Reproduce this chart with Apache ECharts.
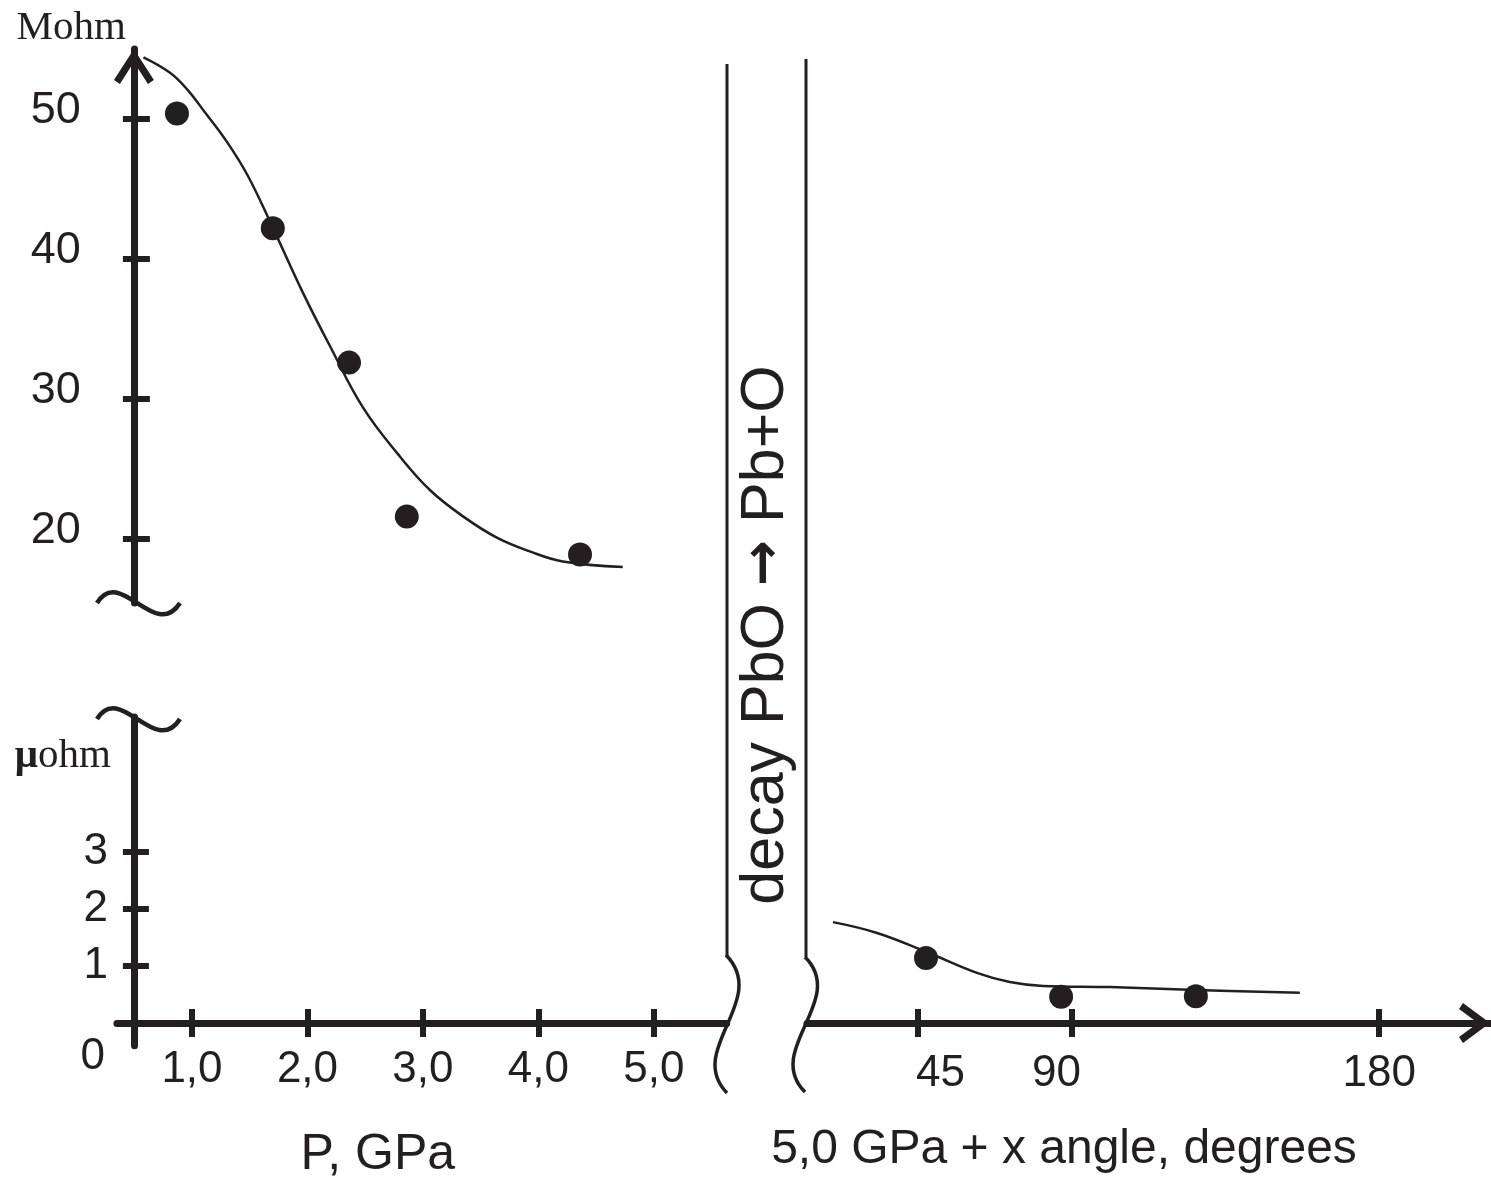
<!DOCTYPE html>
<html>
<head>
<meta charset="utf-8">
<title>PbO resistance vs pressure</title>
<script src="https://cdn.jsdelivr.net/npm/echarts@6/dist/echarts.min.js"></script>
<style>
  html, body { margin: 0; padding: 0; background: #fff; }
  #chart { width: 1491px; height: 1179px; }
</style>
</head>
<body>
<div id="chart"></div>
<script>
const INK = '#231f20'
const SANS = 'Liberation Sans'
const SERIF = 'Liberation Serif'

// upper panel: resistance (Mohm) vs pressure (GPa)
const pressureFit = [0.58, 0.81, 0.96, 1.11, 1.3, 1.48, 1.68, 1.96, 2.2, 2.48, 2.78, 3.06, 3.35, 3.64, 3.93, 4.21, 4.73]
const mohmFit = [54.4, 53.3, 52.1, 50.5, 48.4, 46.0, 42.6, 37.6, 33.7, 29.4, 26.1, 23.5, 21.6, 20.1, 19.1, 18.4, 18.0]
const pressure = [0.87, 1.7, 2.36, 2.86, 4.36]
const mohm = [50.4, 42.2, 32.6, 21.6, 18.9]

// right panel: resistance (μohm) at 5,0 GPa vs shear angle
const angleFit = [20.3, 33.2, 47.5, 62.4, 72.0, 81.7, 101.3, 126.4, 156.8]
const uohmFit = [1.77, 1.58, 1.25, 0.88, 0.72, 0.65, 0.63, 0.58, 0.53]
const angle = [47.5, 87.0, 126.4]
const uohm = [1.14, 0.46, 0.47]

// ticks
const pTicks = [1, 2, 3, 4, 5]
const mohmTicks = [20, 30, 40, 50]
const uohmTicks = [1, 2, 3]
const uohmLabels = [0, 1, 2, 3]
const angleTicks = [45, 90, 180]

const pRange = [0.35, 5.63]
const mohmRange = [15.43, 55]
const uohmRange = [-0.4, 5.37]
const angleRange = [12.7, 212.4]

const zip = (xs, ys) => xs.map((x, i) => [x, ys[i]])

// open chevron arrow heads, drawn pointing up
const ARROW_Y = 'path://M0,31 L20,0 L40,31 L34,35 L20,13 L6,35 Z'
const ARROW_X = 'path://M0,27 L20,0 L40,27 L34,31 L20,12 L6,31 Z'

const tickStyle = { color: INK, width: 6 }
const labelFont = { color: INK, fontFamily: SANS, fontSize: 44 }

function tickOnlyAxis(base, ticks, length) {
  return Object.assign({}, base, {
    axisLine: {
      show: false,
      onZero: base.axisLine ? base.axisLine.onZero : false,
      onZeroAxisIndex: base.axisLine ? base.axisLine.onZeroAxisIndex : undefined,
    },
    axisTick: { inside: false, length, customValues: ticks, lineStyle: tickStyle },
    axisLabel: { show: false },
    splitLine: { show: false },
    name: '',
  })
}

const xLower = {
  gridIndex: 1, type: 'value', position: 'bottom', min: pRange[0], max: pRange[1],
  axisLine: { onZero: true, onZeroAxisIndex: 2, lineStyle: { color: INK, width: 7 } },
  axisTick: { inside: true, length: 14, customValues: pTicks, lineStyle: tickStyle },
  axisLabel: Object.assign({ customValues: pTicks, margin: 2, formatter: (v) => v.toFixed(1).replace('.', ',') }, labelFont),
  splitLine: { show: false },
  name: 'P, GPa', nameLocation: 'middle', nameGap: 84,
  nameTextStyle: { color: INK, fontFamily: SANS, fontSize: 50, padding: [0, 88, 0, 0] },
}

const xRight = {
  gridIndex: 2, type: 'value', position: 'bottom', min: angleRange[0], max: angleRange[1],
  axisLine: {
    onZero: true, onZeroAxisIndex: 4,
    symbol: ['none', ARROW_X], symbolSize: [40, 31], symbolOffset: [0, -15.5],
    lineStyle: { color: INK, width: 7 },
  },
  axisTick: { inside: true, length: 14, customValues: angleTicks, lineStyle: tickStyle },
  axisLabel: Object.assign({
    customValues: angleTicks, margin: 6,
    // hand-drawn label placement of the original
    formatter: (v) => (v === 45 ? '{a|45}' : v === 90 ? '{b|90}' : String(v)),
    rich: {
      a: { fontFamily: SANS, fontSize: 44, color: INK, padding: [0, 0, 0, 46] },
      b: { fontFamily: SANS, fontSize: 44, color: INK, padding: [0, 30, 0, 0] },
    },
  }, labelFont),
  splitLine: { show: false },
  name: '5,0 GPa + x angle, degrees', nameLocation: 'middle', nameGap: 80,
  nameTextStyle: { color: INK, fontFamily: SANS, fontSize: 48, padding: [0, 169, 0, 0] },
}

const yUpper = {
  gridIndex: 0, type: 'value', position: 'left', offset: -17, min: mohmRange[0], max: mohmRange[1],
  axisLine: {
    onZero: false,
    symbol: ['none', ARROW_Y], symbolSize: [40, 35], symbolOffset: [0, -17.5],
    lineStyle: { color: INK, width: 7 },
  },
  axisTick: { inside: true, length: 16, customValues: mohmTicks, lineStyle: tickStyle },
  axisLabel: Object.assign({
    customValues: mohmTicks, margin: 53,
    formatter: (v) => '{u|' + v + '}',
    rich: { u: { fontFamily: SANS, fontSize: 45, color: INK, padding: [0, 0, 16, 0] } },
  }, labelFont),
  splitLine: { show: false },
  name: 'Mohm', nameLocation: 'end', nameGap: 0,
  nameTextStyle: { color: INK, fontFamily: SERIF, fontSize: 41, align: 'right', padding: [0, 8, 0, 0] },
}

const yLower = {
  gridIndex: 1, type: 'value', position: 'left', offset: -17, min: uohmRange[0], max: uohmRange[1],
  axisLine: { onZero: false, lineStyle: { color: INK, width: 7 } },
  axisTick: { inside: true, length: 15, customValues: uohmTicks, lineStyle: tickStyle },
  axisLabel: Object.assign({
    customValues: uohmLabels, margin: 26,
    formatter: (v) => (v === 0 ? '{z|0}' : String(v)),
    rich: { z: { fontFamily: SANS, fontSize: 44, color: INK, padding: [68, 3, 0, 0] } },
  }, labelFont),
  splitLine: { show: false },
  name: '{mu|μ}ohm', nameLocation: 'end', nameGap: -60,
  nameTextStyle: {
    color: INK, fontFamily: SERIF, fontSize: 41, align: 'right', padding: [0, 23, 0, 0],
    rich: { mu: { fontFamily: SERIF, fontSize: 41, fontWeight: 'bold', color: INK } },
  },
}

const option = {
  animation: false,
  backgroundColor: '#fff',
  grid: [
    { left: 116.9, top: 49, width: 609.8, height: 554, outerBoundsMode: 'none' },
    { left: 116.9, top: 716.9, width: 609.8, height: 328.9, outerBoundsMode: 'none' },
    { left: 807, top: 716.9, width: 683, height: 328.9, outerBoundsMode: 'none' },
  ],
  xAxis: [
    { gridIndex: 0, type: 'value', position: 'bottom', min: pRange[0], max: pRange[1], show: false },
    xLower,
    tickOnlyAxis(xLower, pTicks, 14),
    xRight,
    tickOnlyAxis(xRight, angleTicks, 14),
  ],
  yAxis: [
    yUpper,
    tickOnlyAxis(yUpper, mohmTicks, 11),
    yLower,
    tickOnlyAxis(yLower, uohmTicks, 11),
    { gridIndex: 2, type: 'value', position: 'left', min: uohmRange[0], max: uohmRange[1], show: false },
  ],
  series: [
    {
      name: 'fit Mohm', type: 'line', xAxisIndex: 0, yAxisIndex: 0,
      data: zip(pressureFit, mohmFit), smooth: 0.4, symbol: 'none',
      lineStyle: { color: INK, width: 2.5 }, silent: true, z: 3,
    },
    {
      name: 'Mohm', type: 'scatter', xAxisIndex: 0, yAxisIndex: 0,
      data: zip(pressure, mohm), symbolSize: 24, itemStyle: { color: INK, opacity: 1 }, z: 4,
    },
    {
      name: 'fit μohm', type: 'line', xAxisIndex: 3, yAxisIndex: 4,
      data: zip(angleFit, uohmFit), smooth: 0.4, symbol: 'none',
      lineStyle: { color: INK, width: 2.5 }, silent: true, z: 3,
    },
    {
      name: 'μohm', type: 'scatter', xAxisIndex: 3, yAxisIndex: 4,
      data: zip(angle, uohm), symbolSize: 24, itemStyle: { color: INK, opacity: 1 }, z: 4,
    },
  ],
  graphic: [
    // the decay band
    { type: 'line', shape: { x1: 727, y1: 64, x2: 727, y2: 957 }, style: { stroke: INK, lineWidth: 3 } },
    { type: 'line', shape: { x1: 806, y1: 59, x2: 806, y2: 957 }, style: { stroke: INK, lineWidth: 3 } },
    {
      type: 'bezierCurve',
      shape: { x1: 726, y1: 955, cpx1: 770, cpy1: 1000, cpx2: 685, cpy2: 1050, x2: 727, y2: 1093 },
      style: { stroke: INK, lineWidth: 3.5, fill: 'none' },
    },
    {
      type: 'bezierCurve',
      shape: { x1: 805, y1: 957, cpx1: 848, cpy1: 1000, cpx2: 763, cpy2: 1050, x2: 805, y2: 1092 },
      style: { stroke: INK, lineWidth: 3.5, fill: 'none' },
    },
    {
      type: 'text', x: 766, y: 635, rotation: Math.PI / 2,
      style: {
        text: '{t|decay PbO }{a|\u2192}{t| Pb+O}',
        align: 'center', verticalAlign: 'middle',
        rich: {
          t: { fontFamily: SANS, fontSize: 61, fill: INK },
          a: { fontFamily: 'DejaVu Sans', fontSize: 55, fontWeight: 'bold', fill: INK },
        },
      },
    },
    // y-axis break marks
    {
      type: 'bezierCurve',
      shape: { x1: 97, y1: 603, cpx1: 120, cpy1: 565, cpx2: 155, cpy2: 642, x2: 180, y2: 603 },
      style: { stroke: INK, lineWidth: 4.5, fill: 'none' },
    },
    {
      type: 'bezierCurve',
      shape: { x1: 97, y1: 719, cpx1: 120, cpy1: 681, cpx2: 155, cpy2: 758, x2: 180, y2: 719 },
      style: { stroke: INK, lineWidth: 4.5, fill: 'none' },
    },
  ],
}

const chart = echarts.init(document.getElementById('chart'))
chart.setOption(option)
window.addEventListener('resize', () => chart.resize())
</script>
</body>
</html>
